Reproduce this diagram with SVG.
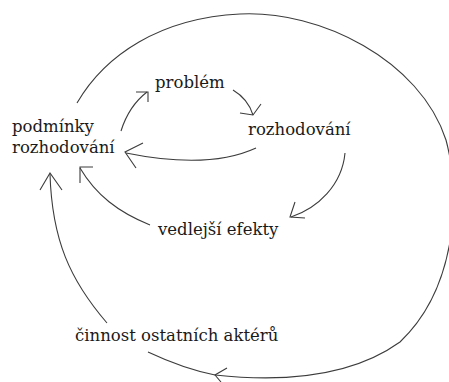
<svg xmlns="http://www.w3.org/2000/svg" width="449" height="382" viewBox="0 0 449 382">
  <style>
    .label { font-family: "DejaVu Serif", "Liberation Serif", serif; font-size: 16.5px; fill: #1a1a1a; }
    .link { fill: none; stroke: #3c3c3c; stroke-width: 1.1; }
  </style>
  <rect width="449" height="382" fill="#ffffff"/>

  <g id="connectors">
    <!-- outer loop: decision conditions, around the right side, to the other actors -->
    <path class="link" d="M77,103 C105,55 160,18 240,14 C320,10 420,60 446,140 C462,200 455,290 400,342 C350,378 280,382 215,375 C190,370 165,360 148,352"/>
    <polyline class="link" points="227,368 215,375 221,382"/>

    <!-- other actors -> decision conditions -->
    <path class="link" d="M107,323 C70,280 52,240 50,174"/>
    <polyline class="link" points="40,190 50,173 62,190"/>

    <!-- side effects -> decision conditions -->
    <path class="link" d="M150,225 C118,212 96,195 80,168"/>
    <polyline class="link" points="93,167 80,167 80,183"/>

    <!-- decision -> side effects -->
    <path class="link" d="M345,153 C342,185 318,208 291,217"/>
    <polyline class="link" points="295,202 290,217 305,218"/>

    <!-- decision -> decision conditions -->
    <path class="link" d="M256,148 C230,160 190,166 126,153"/>
    <polyline class="link" points="143,143 125,152 136,168"/>

    <!-- decision conditions -> problem -->
    <path class="link" d="M121,131 C126,115 134,102 147,92"/>
    <polyline class="link" points="136,92 148,92 148,102"/>

    <!-- problem -> decision -->
    <path class="link" d="M233,90 C243,96 250,105 253,115"/>
    <polyline class="link" points="240,113 253,115 261,104"/>
  </g>

  <g id="node-podminky">
    <text class="label" x="12" y="132">podmínky</text>
    <text class="label" x="12" y="153">rozhodování</text>
  </g>
  <g id="node-problem">
    <text class="label" x="155" y="88">problém</text>
  </g>
  <g id="node-rozhodovani">
    <text class="label" x="248" y="135">rozhodování</text>
  </g>
  <g id="node-vedlejsi">
    <text class="label" x="158" y="235">vedlejší efekty</text>
  </g>
  <g id="node-cinnost">
    <text class="label" x="75" y="341">činnost ostatních aktérů</text>
  </g>
</svg>
